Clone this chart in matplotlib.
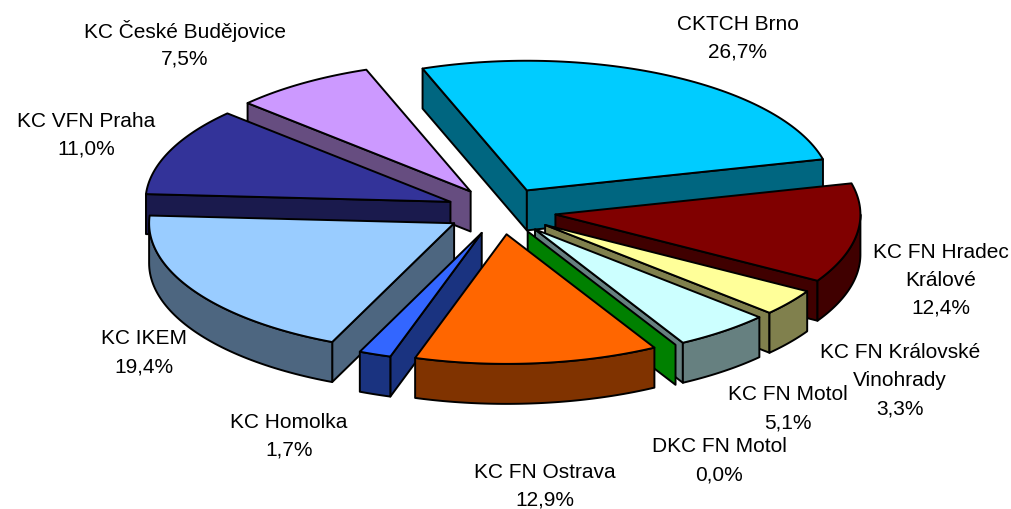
import numpy as np
import matplotlib
matplotlib.use("Agg")
import matplotlib.pyplot as plt
from matplotlib.colors import to_rgb
from matplotlib.patches import Polygon

plt.rcParams['font.family'] = ['Liberation Sans', 'DejaVu Sans']

# --- Data ---
categories = ["CKTCH Brno", "KC FN Hradec\nKrálové", "KC FN Královské\nVinohrady", "KC FN Motol",
              "DKC FN Motol", "KC FN Ostrava", "KC Homolka", "KC IKEM", "KC VFN Praha",
              "KC České Budějovice"]
values = [26.7, 12.4, 3.3, 5.1, 0.0, 12.9, 1.7, 19.4, 11.0, 7.5]
colors = ["#00CCFF", "#800000", "#FFFF99", "#CCFFFF", "#00FF00", "#FF6600", "#3366FF", "#99CCFF",
          "#333399", "#CC99FF"]

# label centres, pixels
label_x = [738, 941, 900, 788, 719, 545, 289, 144, 86, 185]
label_y = [36, 278, 379, 407, 459, 484, 434, 351, 133, 43]
line_step = 28

# --- Pie geometry ---
cx, cy = 501, 211
radius = 305
squash = 0.425
explode = 55
depth = 40
start = -20


def pt(theta, r, ox=0.0, oy=0.0):
    t = np.radians(theta)
    return ox + r * np.sin(t), oy - r * np.cos(t) * squash


fig = plt.figure(figsize=(10.12, 5.09), dpi=100)
ax = fig.add_axes([0, 0, 1, 1])
ax.set_xlim(0, 1012)
ax.set_ylim(509, 0)
ax.axis('off')

edges = start + np.cumsum([0] + values) * 3.6
slices = []
for i in range(len(values)):
    t0, t1 = edges[i], edges[i + 1]
    ox, oy = pt((t0 + t1) / 2, explode, cx, cy)
    slices.append((oy, t0, t1, ox, colors[i]))

# back to front
slices.sort(key=lambda s: s[0])
lw = 1.4


def face(xy, c):
    ax.add_patch(Polygon(xy, closed=True, facecolor=c, edgecolor='black', lw=lw, joinstyle='round'))


for oy, t0, t1, ox, col in slices:
    side = tuple(0.5 * c for c in to_rgb(col))
    apex = (ox, oy)
    # radial walls, only those facing the viewer
    for a, sign in ((t0, -1), (t1, 1)):
        if sign * np.sin(np.radians(a)) > 0:
            p = pt(a, radius, ox, oy)
            face([apex, p, (p[0], p[1] + depth), (ox, oy + depth)], side)
    # outer wall on the front half
    lo, hi = max(t0, 90), min(t1, 270)
    if lo < hi:
        th = np.linspace(lo, hi, 60)
        x, y = pt(th, radius, ox, oy)
        face(np.r_[np.c_[x, y], np.c_[x, y + depth][::-1]], side)
    # top
    if t1 > t0:
        th = np.linspace(t0, t1, 80)
        x, y = pt(th, radius, ox, oy)
        face(np.r_[[apex], np.c_[x, y]], col)

# one text per line so the label blocks can sit close together
for name, v, lx, ly in zip(categories, values, label_x, label_y):
    lines = f"{name}\n{v:.1f}%".replace('.', ',').split("\n")
    top = ly - line_step * (len(lines) - 1) / 2
    for j, line in enumerate(lines):
        ax.text(lx, top + j * line_step, line, ha='center', va='center_baseline', fontsize=15,
                color='black')

fig.savefig("out.png", dpi=100)
